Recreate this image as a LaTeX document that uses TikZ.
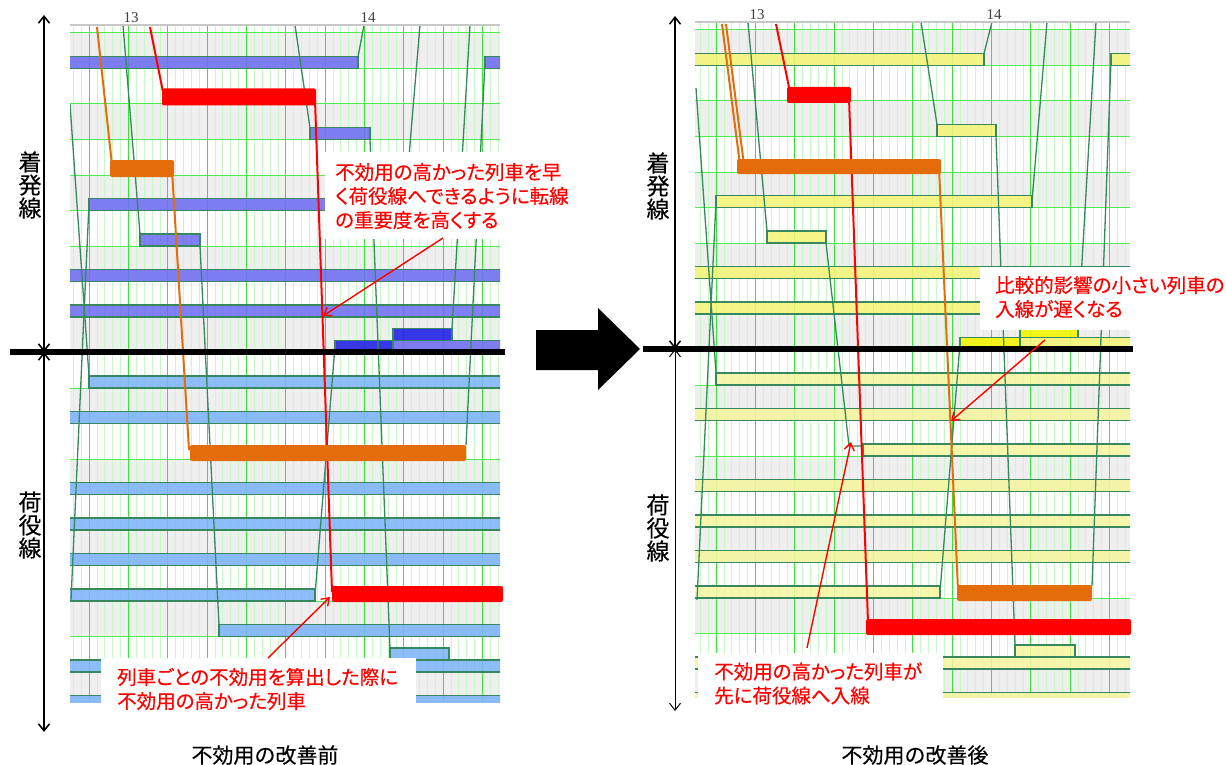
\documentclass[tikz,border=0pt]{standalone}
\usepackage{fontspec}
\newfontfamily\jp[FakeBold=0.3]{Noto Sans CJK JP}
\newfontfamily\jpp[RawFeature=+palt,FakeBold=0.4]{Noto Sans CJK JP}
\newfontfamily\tnum{Liberation Serif}
\usetikzlibrary{arrows.meta}
\definecolor{rowgrey}{RGB}{239,239,239}
\definecolor{gmin}{RGB}{200,248,200}
\definecolor{gmaj}{RGB}{50,232,50}
\definecolor{ghor}{RGB}{80,235,80}
\definecolor{tline}{RGB}{55,135,95}
\definecolor{bbar}{RGB}{110,110,242}
\definecolor{dbar}{RGB}{30,30,230}
\definecolor{lbar}{RGB}{125,180,250}
\definecolor{ybar}{RGB}{245,245,120}
\definecolor{byel}{RGB}{245,245,0}
\definecolor{pbar}{RGB}{245,245,160}
\definecolor{orng}{RGB}{228,108,10}
\begin{document}
\begin{tikzpicture}[x=1pt,y=-1pt,
  rowbg/.style={fill=rowgrey},
  gminor/.style={draw=gmin,line width=0.9},
  gmajor/.style={draw=gmaj,line width=1},
  ghour/.style={draw=gmaj,line width=1.8},
  hline/.style={draw=ghor,line width=1},
  topline/.style={draw=black!22,line width=2},
  bar/.style={draw=tline,line width=1.2,fill opacity=0.88},
  ubar/.style={bar,fill=bbar},
  dkbar/.style={bar,fill=dbar},
  lwbar/.style={bar,fill=lbar},
  yebar/.style={bar,fill=ybar},
  bybar/.style={bar,fill=byel},
  pabar/.style={bar,fill=pbar},
  train/.style={draw=tline,line width=1.3},
  redln/.style={draw=red,line width=2},
  orgln/.style={draw=orng,line width=2},
  redbar/.style={fill=red,rounded corners=2},
  orgbar/.style={fill=orng,rounded corners=2},
  divider/.style={draw=black,line width=6},
  note/.style={text=red,font=\jpp\fontsize{19.5}{24}\selectfont,align=left,anchor=west,inner sep=0pt},
  notebox/.style={fill=white,inner sep=0pt,anchor=north west},
  callout/.style={draw=red,line width=1.4,-{Straight Barb[length=7pt,width=10pt]}},
  axis/.style={draw=black,line width=1.5,{Straight Barb[length=7pt,width=11pt]}-{Straight Barb[length=7pt,width=11pt]}},
  axlab/.style={font=\jp\fontsize{23}{23}\selectfont,align=center,inner sep=0pt},
  ticklab/.style={font=\tnum\fontsize{15}{15}\selectfont,text=black!75,inner sep=0pt},
  title/.style={font=\jp\fontsize{21}{21}\selectfont,inner sep=0pt},
]
\useasboundingbox (0,0) rectangle (1226,765);

% ================= LEFT CHART =================
\begin{scope}
\clip (70,25) rectangle (500,702);
\foreach \r in {1,3,...,19} \fill[rowbg] (70,{33+35.5*(\r-1)}) rectangle (500,{33+35.5*\r});
\foreach \k in {-7,...,47}{
  \pgfmathsetmacro{\xx}{128.5+\k*7.8667}
  \pgfmathtruncatemacro{\mm}{mod(\k+35,5)}
  \pgfmathtruncatemacro{\hh}{mod(\k+60,30)}
  \ifnum\hh=0 \draw[ghour] (\xx,25) -- (\xx,702);
  \else\ifnum\mm=0 \draw[gmajor] (\xx,25) -- (\xx,702);
  \else \draw[gminor] (\xx,25) -- (\xx,702);\fi\fi
}
\foreach \r in {0,...,19} \draw[hline] (70,{33+35.5*\r}) -- (500,{33+35.5*\r});
% upper bars
\draw[ubar] (67,56.5) rectangle (358,68.5);
\draw[ubar] (485,56.5) rectangle (503,68.5);
\draw[ubar] (310,127.5) rectangle (370,139.5);
\draw[ubar] (89,198.5) rectangle (405,210.5);
\draw[ubar] (140,234) rectangle (200,246);
\draw[ubar] (67,269.5) rectangle (503,281.5);
\draw[ubar] (67,305) rectangle (503,317);
\draw[dkbar] (335,340.5) rectangle (393,352.5);
\draw[dkbar] (393,328.5) rectangle (452,340.5);
\draw[ubar] (393,340.5) rectangle (503,352.5);
% lower bars
\draw[lwbar] (89,376) rectangle (503,388);
\draw[lwbar] (67,411.5) rectangle (503,423.5);
\draw[lwbar] (67,482.5) rectangle (503,494.5);
\draw[lwbar] (67,518) rectangle (503,530);
\draw[lwbar] (67,553.5) rectangle (503,565.5);
\draw[lwbar] (67,589) rectangle (315,601);
\draw[lwbar] (219,624.5) rectangle (503,636.5);
\draw[lwbar] (390,648) rectangle (449,660);
\draw[lwbar] (67,660) rectangle (503,672);
\draw[lwbar] (67,695.5) rectangle (503,707.5);
% train lines
\draw[train] (123,25) -- (140,234);
\draw[train] (200,246) -- (219,625);
\draw[train] (70,104) -- (89,376);
\draw[train] (89,204) -- (71,600);
\draw[train] (295,25) -- (310,128);
\draw[train] (370,140) -- (390,649);
\draw[train] (358,57) -- (364,25);
\draw[train] (405,204) -- (420,25);
\draw[train] (470,25) -- (452,329);
\draw[train] (485,62) -- (466,445);
\draw[train] (335,346) -- (315,595);
% highlighted trains
\draw[redln] (150,27) -- (163,92);
\draw[redln] (315,100) -- (332,592);
\draw[orgln] (97,27) -- (112,165);
\draw[orgln] (172,170) -- (189,450);
\end{scope}
\draw[topline] (70,25) -- (500,25);
\fill[redbar] (162,88.5) rectangle (316,105.5);
\fill[orgbar] (110,160) rectangle (174,177);
\fill[orgbar] (190,445) rectangle (466,461);
\fill[redbar] (332,586) rectangle (503,602);
\node[ticklab] (l13) at (131,18) {13};
\node[ticklab] (l14) at (368,18) {14};

% ================= RIGHT CHART =================
\begin{scope}
\clip (695,22) rectangle (1130,697);
\foreach \r in {1,3,...,19} \fill[rowbg] (695,{30+35.5*(\r-1)}) rectangle (1130,{30+35.5*\r});
\foreach \k in {-7,...,47}{
  \pgfmathsetmacro{\xx}{755.5+\k*7.8667}
  \pgfmathtruncatemacro{\mm}{mod(\k+35,5)}
  \pgfmathtruncatemacro{\hh}{mod(\k+60,30)}
  \ifnum\hh=0 \draw[ghour] (\xx,22) -- (\xx,697);
  \else\ifnum\mm=0 \draw[gmajor] (\xx,22) -- (\xx,697);
  \else \draw[gminor] (\xx,22) -- (\xx,697);\fi\fi
}
\foreach \r in {0,...,19} \draw[hline] (695,{30+35.5*\r}) -- (1130,{30+35.5*\r});
% upper bars
\draw[yebar] (692,53.5) rectangle (984,65.5);
\draw[yebar] (1111,53.5) rectangle (1133,65.5);
\draw[yebar] (937,124.5) rectangle (996,136.5);
\draw[yebar] (716,195.5) rectangle (1032,207.5);
\draw[yebar] (767,231) rectangle (826,243);
\draw[yebar] (692,266.5) rectangle (1133,278.5);
\draw[yebar] (692,302) rectangle (1133,314);
\draw[bybar] (960,337.5) rectangle (1020,349.5);
\draw[bybar] (1020,325.5) rectangle (1078,337.5);
\draw[yebar] (1020,337.5) rectangle (1133,349.5);
% lower bars
\draw[pabar] (716,373) rectangle (1133,385);
\draw[pabar] (692,408.5) rectangle (1133,420.5);
\draw[pabar] (863,444) rectangle (1133,456);
\draw[pabar] (692,479.5) rectangle (1133,491.5);
\draw[pabar] (692,515) rectangle (1133,527);
\draw[pabar] (692,550.5) rectangle (1133,562.5);
\draw[pabar] (692,586) rectangle (940,598);
\draw[pabar] (1015,645) rectangle (1075,657);
\draw[pabar] (692,657) rectangle (1133,669);
\draw[pabar] (692,692.5) rectangle (1133,704.5);
% train lines
\draw[train] (748,22) -- (767,231);
\draw[train] (826,243) -- (849,446) -- (863,446);
\draw[train] (696,88) -- (716,373);
\draw[train] (716,201) -- (697,600);
\draw[train] (921,22) -- (937,124.5);
\draw[train] (996,136.5) -- (1015,645);
\draw[train] (984,53.5) -- (992,22);
\draw[train] (1032,201) -- (1047,22);
\draw[train] (1096,22) -- (1078,330);
\draw[train] (1111,60) -- (1092,586);
\draw[train] (960,343) -- (940,592);
% highlighted trains
\draw[redln] (776,24) -- (790,92);
\draw[redln] (849,98) -- (868,622);
\draw[orgln] (722,24) -- (740,165);
\draw[orgln] (726,24) -- (744,165);
\draw[orgln] (939,168) -- (958,590);
\end{scope}
\draw[topline] (695,22) -- (1130,22);
\fill[redbar] (787,87) rectangle (851,103);
\fill[orgbar] (737,159) rectangle (941,174);
\fill[orgbar] (957,585) rectangle (1092,601);
\fill[redbar] (866,619) rectangle (1131,635);
\node[ticklab] (r13) at (757,15) {13};
\node[ticklab] (r14) at (994,15) {14};

% ================= DIVIDERS AND AXES =================
\coordinate (ldA) at (10,352);
\coordinate (ldB) at (505,352);
\draw[divider] (ldA) -- (ldB);
\coordinate (rdA) at (643,349);
\coordinate (rdB) at (1133,349);
\draw[divider] (rdA) -- (rdB);

\coordinate (lax1) at (44,15);
\coordinate (lax2) at (44,352);
\coordinate (lax3) at (44,732);
\draw[axis] (lax1) -- (lax2);
\draw[axis] (lax2) -- (lax3);
\coordinate (rax1) at (675,16);
\coordinate (rax2) at (675,349);
\coordinate (rax3) at (675,711);
\draw[axis] (rax1) -- (rax2);
\draw[axis,line width=1] (rax2) -- (rax3);

\node[axlab] (lUp) at (30,185) {着\\発\\線};
\node[axlab] (lDn) at (30,525) {荷\\役\\線};
\node[axlab] (rUp) at (658,186) {着\\発\\線};
\node[axlab] (rDn) at (658,528) {荷\\役\\線};

% big arrow
\fill (536,330) -- (598,330) -- (598,308) -- (640,349) -- (598,390) -- (598,370) -- (536,370) -- cycle;

% ================= ANNOTATIONS =================
\node[notebox,minimum width=250pt,minimum height=87pt] (boxL1) at (325,152) {};
\node[note] (tL1) at (335,196) {不効用の高かった列車を早\\く荷役線へできるように転線\\の重要度を高くする};
\coordinate (aL1s) at (443,238);
\coordinate (aL1e) at (323,316);
\draw[callout] (aL1s) -- (aL1e);

\node[notebox,minimum width=315pt,minimum height=50pt] (boxL2) at (101,658) {};
\node[note] (tL2) at (117,689) {列車ごとの不効用を算出した際に\\不効用の高かった列車};
\coordinate (aL2s) at (268,658);
\coordinate (aL2e) at (330,597);
\draw[callout] (aL2s) -- (aL2e);

\node[notebox,minimum width=242pt,minimum height=63pt] (boxR1) at (980,267) {};
\node[note] (tR1) at (995,297) {比較的影響の小さい列車の\\入線が遅くなる};
\coordinate (aR1s) at (1045,340);
\coordinate (aR1e) at (951,421);
\draw[callout] (aR1s) -- (aR1e);

\node[notebox,minimum width=245pt,minimum height=50pt] (boxR2) at (698,653) {};
\node[note] (tR2) at (714,683.5) {不効用の高かった列車が\\先に荷役線へ入線};
\coordinate (aR2s) at (807,648);
\coordinate (aR2e) at (851,442);
\draw[callout] (aR2s) -- (aR2e);

\node[title] (ttL) at (265,755) {不効用の改善前};
\node[title] (ttR) at (915,755) {不効用の改善後};
\end{tikzpicture}
\end{document}
